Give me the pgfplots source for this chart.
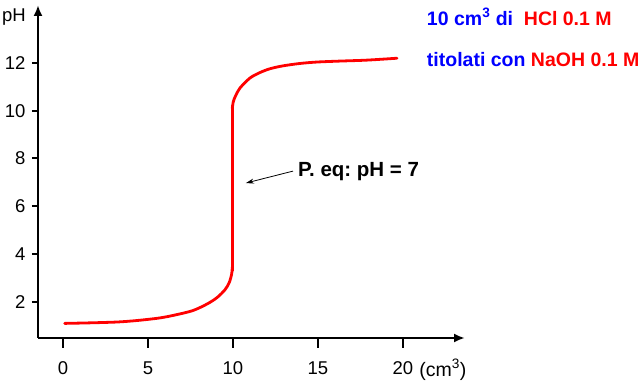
\documentclass[border=0pt]{standalone}
\usepackage{pgfplots}
\pgfplotsset{compat=1.18}
\usepackage{fontspec}
\setmainfont{Liberation Sans}
\usetikzlibrary{arrows.meta}
\definecolor{cred}{RGB}{255,0,0}
\definecolor{cblue}{RGB}{0,0,255}
\frenchspacing
\begin{document}
\begin{tikzpicture}[x=1pt,y=1pt]
\path[use as bounding box] (0,0) rectangle (642,382);
\begin{axis}[
  at={(38pt,44pt)}, anchor=south west,
  scale only axis, width=427pt, height=333pt,
  xmin=-1.47, xmax=23.65, ymin=0.478, ymax=14.43,
  axis lines=left,
  axis line style={line width=2.6pt, -{Latex[length=11pt,width=9pt]}},
  clip=false,
  xtick={0,5,10,15,20}, ytick={2,4,6,8,10,12},
  tick align=outside,
  major tick length=7pt,
  xtick style={line width=2pt, black, /pgfplots/major tick length=10pt},
  ytick style={line width=2pt, black, /pgfplots/major tick length=6pt},
  /pgf/number format/assume math mode=true,
  ticklabel style={font=\fontsize{18.5}{20}\selectfont},
  xticklabel style={yshift=-13pt},
  yticklabel style={xshift=-2pt},
]
\addplot[cred, line width=2.8pt, line cap=round, smooth, tension=0.5] coordinates {
(0.1,1.09) (0.82,1.10) (2.0,1.12) (3.24,1.15) (4.35,1.21) (5.71,1.32)
(6.71,1.46) (7.65,1.63) (8.47,1.90) (9.06,2.17) (9.53,2.50) (9.78,2.80)
(9.92,3.15) (9.96,3.45)
};
\addplot[cred, line width=2.8pt, line cap=round] coordinates {(9.96,3.3) (9.96,10.2)};
\addplot[cred, line width=2.8pt, line cap=round, smooth, tension=0.5] coordinates {
(9.96,10.1) (10.02,10.38) (10.15,10.62) (10.41,10.95) (11.0,11.37) (11.59,11.6)
(12.18,11.76) (12.94,11.88) (13.94,11.98) (14.94,12.04) (16.29,12.08)
(17.88,12.12) (19.65,12.2)
};
\draw[line width=0.8pt, -{Stealth[length=8pt,width=5pt]}] (axis cs:13.53,7.47) -- (axis cs:10.76,6.97);
\node[anchor=west, inner sep=0pt, font=\fontsize{20.5}{22}\selectfont\bfseries] at (axis cs:13.82,7.43) {P. eq: pH = 7};
\node[anchor=west, inner sep=0pt, font=\fontsize{19.5}{22}\selectfont\bfseries] at (axis cs:21.4,13.93) {\textcolor{cblue}{10 cm\textsuperscript{3} di}\ \ \textcolor{cred}{HCl 0.1 M}};
\node[anchor=west, inner sep=0pt, font=\fontsize{19.5}{22}\selectfont\bfseries] at (axis cs:21.4,12.13) {\textcolor{cblue}{titolati con} \textcolor{cred}{NaOH 0.1 M}};
\node[inner sep=0pt, font=\fontsize{18.5}{20}\selectfont] at (axis cs:-2.88,13.93) {pH};
\node[inner sep=0pt, font=\fontsize{19.5}{20}\selectfont] at (axis cs:22.35,-0.86) {(cm\textsuperscript{3})};
\end{axis}
\end{tikzpicture}
\end{document}
